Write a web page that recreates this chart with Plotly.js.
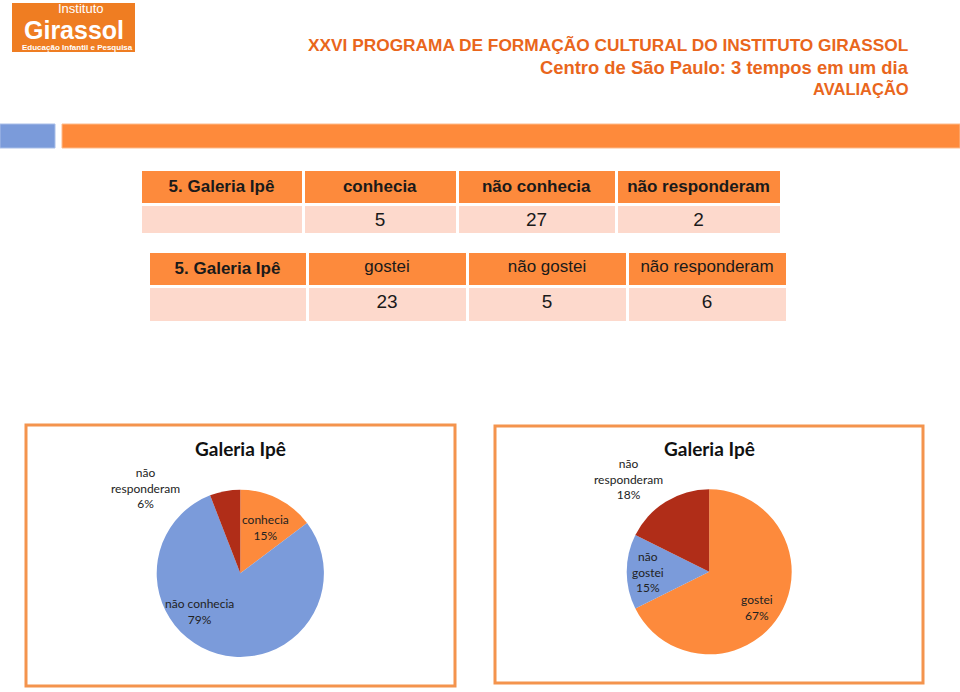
<!DOCTYPE html>
<html>
<head>
<meta charset="utf-8">
<script src="https://cdn.plot.ly/plotly-3.0.1.min.js"></script>
<style>
  html, body { margin: 0; padding: 0; background: #fff; }
  #slide { width: 960px; height: 692px; }
</style>
</head>
<body>
<div id="slide"></div>
<script>
// dados da avaliação
const tabela1Cab = ["5. Galeria Ipê", "conhecia", "não conhecia", "não responderam"];
const tabela1Val = [5, 27, 2];
const tabela2Cab = ["5. Galeria Ipê", "gostei", "não gostei", "não responderam"];
const tabela2Val = [23, 5, 6];

const pizza1Rotulos = ["conhecia", "não conhecia", "não responderam"];
const pizza1Pct = ["15%", "79%", "6%"];
const pizza2Rotulos = ["gostei", "não gostei", "não responderam"];
const pizza2Pct = ["67%", "15%", "18%"];

const tituloLinhas = [
  "XXVI PROGRAMA DE FORMAÇÃO CULTURAL DO INSTITUTO GIRASSOL",
  "Centro de São Paulo: 3 tempos em um dia",
  "AVALIAÇÃO"
];

// cores
const LARANJA = "#FD8A3C";
const AZUL = "#7B9BDA";
const VERMELHO = "#B02D18";
const ROSA = "#FDD9CC";
const TXT_LARANJA = "#E9661C";

// conversão pixel -> paper
const W = 960, H = 692;
const px = (x) => x / W;
const py = (y) => 1 - y / H;

const fonteTabela = "Liberation Sans, Arial, sans-serif";
const fontePizza = "Lato, sans-serif";
const fonteArial = "Liberation Sans, Arial, sans-serif";

function tabela(cab, vals, x0, x1, yTop, yBot, larguras, hCab, hCel, negritoTodos) {
  return {
    type: "table",
    domain: { x: [px(x0), px(x1)], y: [py(yBot), py(yTop)] },
    columnwidth: larguras,
    header: {
      values: cab.map((c, i) => (i === 0 || negritoTodos ? `<b>${c}</b>` : c)),
      align: "center",
      height: hCab,
      fill: { color: LARANJA },
      line: { color: "#ffffff", width: 3 },
      font: { family: fonteTabela, size: 17, color: "#1a1a1a" }
    },
    cells: {
      values: [[""]].concat(vals.map((v) => [v])),
      align: "center",
      height: hCel,
      fill: { color: ROSA },
      line: { color: "#ffffff", width: 3 },
      font: { family: fonteTabela, size: 19, color: "#1a1a1a" }
    }
  };
}

// pizzas: centro e raio medidos na imagem
function pizza(rotulos, valores, cores, cx, cy, r) {
  return {
    type: "pie",
    labels: rotulos,
    values: valores,
    sort: false,
    direction: "clockwise",
    rotation: 0,
    marker: { colors: cores, line: { width: 0 } },
    textinfo: "none",
    hoverinfo: "label+percent",
    showlegend: false,
    domain: { x: [px(cx - r), px(cx + r)], y: [py(cy + r), py(cy - r)] }
  };
}

const traces = [
  tabela(tabela1Cab, tabela1Val, 140, 781, 169, 240, [163, 154, 159, 165], 30, 30, true),
  tabela(tabela2Cab, tabela2Val, 148, 787, 251, 330, [159, 160, 160, 160], 34, 36, false),
  pizza(pizza1Rotulos, tabela1Val, [LARANJA, AZUL, VERMELHO], 240.3, 573.3, 83.6),
  pizza(pizza2Rotulos, tabela2Val, [LARANJA, AZUL, VERMELHO], 709.2, 571.8, 82.5)
];

const shapes = [
  // logotipo
  { type: "rect", xref: "paper", yref: "paper", x0: px(12), x1: px(135), y0: py(52), y1: py(3),
    fillcolor: "#EF7D22", line: { width: 0 } },
  // barras
  { type: "rect", xref: "paper", yref: "paper", x0: px(0), x1: px(55), y0: py(148), y1: py(124),
    fillcolor: AZUL, line: { color: "#A9BEE8", width: 1 } },
  { type: "rect", xref: "paper", yref: "paper", x0: px(62), x1: px(960), y0: py(148), y1: py(124),
    fillcolor: "#FE8A3B", line: { color: "#FDBB8C", width: 1 } },
  // molduras das pizzas
  { type: "rect", xref: "paper", yref: "paper", x0: px(26), x1: px(455), y0: py(686), y1: py(425),
    fillcolor: "rgba(0,0,0,0)", line: { color: "#F4944D", width: 3 } },
  { type: "rect", xref: "paper", yref: "paper", x0: px(495), x1: px(923), y0: py(683), y1: py(426),
    fillcolor: "rgba(0,0,0,0)", line: { color: "#F4944D", width: 3 } }
];

function nota(texto, x, y, fonte, extra) {
  return Object.assign({
    text: texto, xref: "paper", yref: "paper", x: px(x), y: py(y),
    xanchor: "center", yanchor: "middle", showarrow: false, font: fonte
  }, extra || {});
}

const fonteRot = { family: fontePizza, size: 12, color: "#222222" };
const fonteTit = { family: fontePizza, size: 19, color: "#111111", weight: "bold" };

const annotations = [
  // texto do logotipo
  nota("Instituto", 81, 9, { family: fonteArial, size: 13, color: "#ffffff" }),
  nota("<b>Girassol</b>", 74, 30, { family: fonteArial, size: 25, color: "#ffffff" }),
  nota("<b>Educação Infantil e Pesquisa</b>", 77, 47, { family: fonteArial, size: 8, color: "#ffffff" }),
  // cabeçalho
  nota(`<b>${tituloLinhas[0]}</b>`, 911, 45, { family: fonteArial, size: 17.3, color: TXT_LARANJA }, { xanchor: "right" }),
  nota(`<b>${tituloLinhas[1]}</b>`, 911, 67, { family: fonteArial, size: 18.4, color: TXT_LARANJA }, { xanchor: "right" }),
  nota(`<b>${tituloLinhas[2]}</b>`, 911, 88, { family: fonteArial, size: 16.5, color: TXT_LARANJA }, { xanchor: "right" }),
  // títulos das pizzas
  nota("Galeria Ipê", 240, 448, fonteTit),
  nota("Galeria Ipê", 709, 448, fonteTit),
  // rótulos pizza 1
  nota(pizza1Rotulos[0] + "<br>" + pizza1Pct[0], 265, 527, fonteRot),
  nota(pizza1Rotulos[1] + "<br>" + pizza1Pct[1], 199, 611, fonteRot),
  nota("não<br>responderam<br>" + pizza1Pct[2], 145, 488, fonteRot),
  // rótulos pizza 2
  nota(pizza2Rotulos[0] + "<br>" + pizza2Pct[0], 757, 607, fonteRot),
  nota("não<br>gostei<br>" + pizza2Pct[1], 648, 572, fonteRot),
  nota("não<br>responderam<br>" + pizza2Pct[2], 628, 479, fonteRot)
];

const layout = {
  width: W,
  height: H,
  margin: { l: 0, r: 0, t: 0, b: 0 },
  paper_bgcolor: "#ffffff",
  plot_bgcolor: "#ffffff",
  showlegend: false,
  shapes: shapes,
  annotations: annotations
};

Plotly.newPlot("slide", traces, layout, { displayModeBar: false, staticPlot: true });
</script>
</body>
</html>
